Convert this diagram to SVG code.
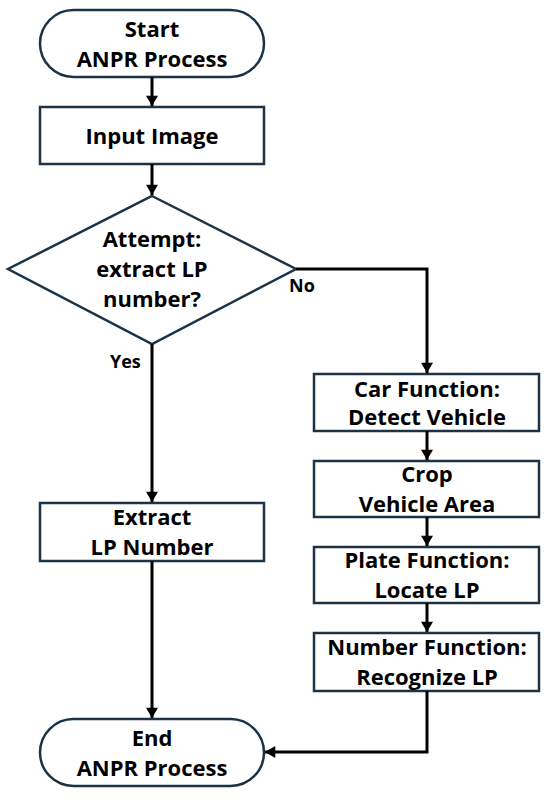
<svg xmlns="http://www.w3.org/2000/svg" width="550" height="800" viewBox="0 0 550 800">
<defs>
<marker id="ah" markerUnits="userSpaceOnUse" markerWidth="16" markerHeight="12" refX="12" refY="7" orient="auto" viewBox="0 0 12 14">
<path d="M0,0 L12,7 L0,14 Z" fill="#000"/>
</marker>
<style>
.n{fill:#fff;stroke:#1b3345;stroke-width:2.5}
.t{font-family:"Open Sans","Liberation Sans",sans-serif;font-weight:bold;font-size:22px;fill:#000;text-anchor:middle}
.l{font-family:"Open Sans","Liberation Sans",sans-serif;font-weight:bold;font-size:18px;fill:#000}
.c{fill:none;stroke:#000;stroke-width:3}
</style>
</defs>
<rect width="550" height="800" fill="#fff"/>
<g id="start"><rect class="n" x="40" y="10" width="224" height="67" rx="33.5"/><text class="t" x="152" y="37">Start</text><text class="t" x="152" y="67">ANPR Process</text></g>
<g id="input"><rect class="n" x="40" y="107" width="224" height="57"/><text class="t" x="152" y="144">Input Image</text></g>
<g id="decision"><polygon class="n" points="152,196 296,269 152,344 8,269"/><text class="t" x="152" y="247">Attempt:</text><text class="t" x="152" y="277">extract LP</text><text class="t" x="152" y="307">number?</text></g>
<g id="extract"><rect class="n" x="40" y="503" width="224" height="58"/><text class="t" x="152" y="525">Extract</text><text class="t" x="152" y="555">LP Number</text></g>
<g id="end"><rect class="n" x="40" y="719" width="224" height="67" rx="33.5"/><text class="t" x="152" y="746">End</text><text class="t" x="152" y="776">ANPR Process</text></g>
<g id="car"><rect class="n" x="314" y="374" width="225" height="57"/><text class="t" x="427" y="397">Car Function:</text><text class="t" x="427" y="425">Detect Vehicle</text></g>
<g id="crop"><rect class="n" x="314" y="461" width="225" height="56"/><text class="t" x="427" y="482">Crop</text><text class="t" x="427" y="512">Vehicle Area</text></g>
<g id="plate"><rect class="n" x="314" y="547" width="225" height="56"/><text class="t" x="427" y="568">Plate Function:</text><text class="t" x="427" y="598">Locate LP</text></g>
<g id="number"><rect class="n" x="314" y="633" width="225" height="58"/><text class="t" x="427" y="655">Number Function:</text><text class="t" x="427" y="685">Recognize LP</text></g>
<g id="connectors">
<path class="c" d="M152,77 V106" marker-end="url(#ah)"/>
<path class="c" d="M152,164 V195" marker-end="url(#ah)"/>
<path class="c" d="M152,344 V502" marker-end="url(#ah)"/>
<path class="c" d="M152,561 V718" marker-end="url(#ah)"/>
<path class="c" d="M296,269 H427 V373" marker-end="url(#ah)"/>
<path class="c" d="M427,431 V460" marker-end="url(#ah)"/>
<path class="c" d="M427,517 V546" marker-end="url(#ah)"/>
<path class="c" d="M427,603 V632" marker-end="url(#ah)"/>
<path class="c" d="M427,691 V752 H265" marker-end="url(#ah)"/>
<text class="l" x="289" y="292">No</text>
<text class="l" x="110" y="368">Yes</text>
</g>
</svg>
